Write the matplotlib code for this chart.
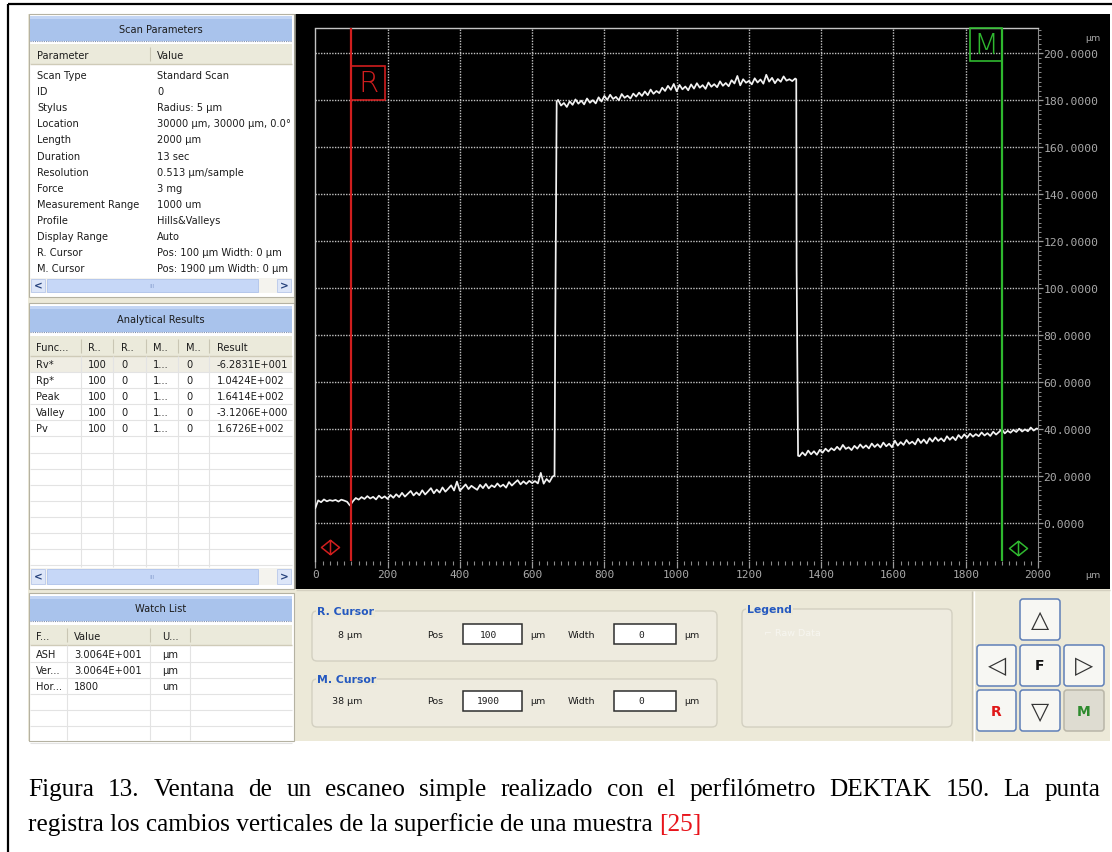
import numpy as np
import matplotlib
matplotlib.use("Agg")
import matplotlib.pyplot as plt
from matplotlib.patches import Rectangle, FancyBboxPatch
from matplotlib.path import Path
from matplotlib.ticker import MultipleLocator
from matplotlib.transforms import Bbox

# ---------------- data ----------------
# Surface profile (µm) sampled every 8 µm on the three levels of the step
sample_step = 8
base_start = 0
base_z = [6.5, 9.8, 9.0, 10.2, 9.4, 9.9, 9.6, 10.0, 9.3, 10.1, 9.7, 9.2, 7.6, 9.4,
          10.8, 10.1, 11.2, 10.4, 11.6, 10.6, 11.3, 10.2, 11.8, 10.7, 11.5, 10.4,
          12.1, 10.9, 12.4, 11.2, 13.0, 11.4, 12.6, 13.8, 11.9, 13.2, 12.0, 14.1,
          12.3, 13.6, 15.0, 12.8, 14.4, 13.1, 15.3, 13.5, 14.8, 16.2, 14.0, 17.8,
          13.9, 15.2, 16.6, 14.6, 16.0, 15.1, 14.3, 16.4, 15.0, 16.8, 14.9, 16.2,
          15.4, 17.0, 15.6, 16.5, 15.2, 17.6, 16.1, 17.3, 18.4, 16.6, 17.9, 16.8,
          18.1, 17.2, 18.0, 17.0, 21.5, 16.9, 18.9, 17.6, 19.8]
rise_x = [662, 664, 668]
rise_z = [20.4, 82.0, 179.6]
film_start = 672
film_z = [180.2, 177.8, 178.9, 177.2, 179.6, 178.1, 180.4, 178.6, 179.9, 178.3,
          180.8, 179.0, 180.1, 178.7, 181.3, 179.5, 181.9, 180.2, 182.4, 180.6,
          181.5, 180.0, 182.7, 181.1, 182.0, 180.8, 182.9, 181.6, 183.3, 181.9,
          183.8, 182.2, 184.6, 182.8, 184.0, 183.1, 185.4, 184.0, 186.2, 184.5,
          187.0, 183.9, 186.6, 184.7, 185.9, 184.3, 186.8, 185.0, 187.3, 185.4,
          186.5, 184.9, 187.6, 185.8, 186.9, 185.6, 188.1, 186.2, 187.4, 186.0,
          188.6, 187.2, 190.4, 186.4, 189.0, 187.5, 188.3, 186.8, 189.4, 187.6,
          188.9, 187.1, 190.9, 188.0, 189.6, 187.3, 189.1, 187.9, 190.2, 188.4,
          189.0, 188.2, 189.3]
fall_x = [1331, 1332, 1336]
fall_z = [189.0, 108.0, 28.8]
tail_start = 1340
tail_z = [28.6, 30.2, 28.9, 31.0, 29.4, 30.7, 29.2, 31.3, 30.1, 31.8, 30.6, 32.0,
          31.1, 32.6, 31.3, 33.4, 31.7, 32.4, 31.2, 33.0, 31.8, 33.6, 32.1, 33.2,
          31.9, 34.0, 32.5, 33.7, 32.3, 34.4, 32.8, 33.9, 32.4, 35.2, 33.1, 34.6,
          33.4, 35.5, 33.9, 34.8, 33.6, 36.0, 34.2, 35.7, 34.0, 36.3, 34.8, 36.6,
          35.1, 36.2, 34.9, 37.1, 35.6, 36.8, 35.4, 37.6, 36.2, 37.9, 36.5, 38.2,
          36.9, 38.0, 37.1, 38.7, 37.4, 38.4, 37.2, 39.0, 37.8, 38.9, 40.1, 38.3,
          39.4, 38.6, 39.8, 38.9, 40.3, 39.1, 40.0, 39.2, 40.8, 39.5, 40.4]
end_x = [2000]
end_z = [40.2]

r_cursor = 100
m_cursor = 1900
x_ticks = list(range(0, 2001, 200))
y_ticks = list(range(0, 201, 20))

param_names = ["Scan Type", "ID", "Stylus", "Location", "Length", "Duration",
               "Resolution", "Force", "Measurement Range", "Profile",
               "Display Range", "R. Cursor", "M. Cursor"]
param_values = ["Standard Scan", "0", "Radius: 5 µm", "30000 µm, 30000 µm, 0.0°",
                "2000 µm", "13 sec", "0.513 µm/sample", "3 mg", "1000 um",
                "Hills&Valleys", "Auto", "Pos: 100 µm Width: 0 µm",
                "Pos: 1900 µm Width: 0 µm"]

result_cols = ["Func...", "R..", "R..", "M..", "M..", "Result"]
result_funcs = ["Rv*", "Rp*", "Peak", "Valley", "Pv"]
result_rpos = ["100"] * 5
result_rwid = ["0"] * 5
result_mpos = ["1..."] * 5
result_mwid = ["0"] * 5
result_vals = ["-6.2831E+001", "1.0424E+002", "1.6414E+002", "-3.1206E+000",
               "1.6726E+002"]

watch_cols = ["F...", "Value", "U..."]
watch_names = ["ASH", "Ver...", "Hor..."]
watch_values = ["3.0064E+001", "3.0064E+001", "1800"]
watch_units = ["µm", "µm", "um"]

caption_line1 = ("Figura 13. Ventana de un escaneo simple realizado con el "
                 "perfilómetro DEKTAK 150. La punta")
caption_line2 = "registra los cambios verticales de la superficie de una muestra"
caption_ref = "[25]"

# ---------------- figure ----------------
W, H = 1112, 853
fig = plt.figure(figsize=(W / 100, H / 100), dpi=100)
fig.patch.set_facecolor("white")
bg = fig.add_axes([0, 0, 1, 1])
bg.set_xlim(0, W)
bg.set_ylim(H, 0)
bg.axis("off")

UI = "DejaVu Sans"
BEIGE = "#ECE9D8"
HEAD = "#A9C3EC"
GRIDC = "#E3E3E3"


def rect(x0, y0, x1, y1, fc, ec="none", lw=0.0, z=1):
    bg.add_patch(Rectangle((x0, y0), x1 - x0, y1 - y0, fc=fc, ec=ec, lw=lw,
                           zorder=z))


def line(xs, ys, c, lw=1.0, z=2, ls="-"):
    bg.plot(xs, ys, color=c, lw=lw, zorder=z, ls=ls, solid_capstyle="butt")


def txt(x, y, s, size=7.1, color="#1c1c1c", ha="left", va="center",
        weight="normal", family=UI, z=5, **kw):
    return bg.text(x, y, s, fontsize=size, color=color, ha=ha, va=va,
                   fontweight=weight, family=family, zorder=z, **kw)


# outer frame of the figure page
line([8, 8], [5, H], "black", lw=1.6, z=1)
line([8, W], [5, 5], "black", lw=1.6, z=1)

# application window background
rect(28, 15, 1110, 742, BEIGE, z=0.5)


def header(y0, y1, title):
    rect(30, y0, 292, y1, HEAD, z=1)
    rect(30, y0, 292, y0 + 3, "#C3D5F4", z=1.1)
    line([30, 292], [y1, y1], "#7E8FB0", lw=0.8, z=1.2, ls=(0, (1, 1)))
    txt(161, (y0 + y1) / 2, title, size=7.1, ha="center")


def colhead(y0, y1, names, xs, seps):
    rect(30, y0, 292, y1, "#EBEADB", z=1)
    line([30, 292], [y1, y1], "#CFCBB8", lw=1.0, z=1.2)
    for s in seps:
        line([s, s], [y0 + 3, y1 - 3], "#C9C6B4", lw=0.8, z=1.2)
    for n, x in zip(names, xs):
        txt(x, (y0 + y1) / 2 + 1, n)


def scrollbar(y0, y1):
    rect(30, y0, 292, y1, "#F4F3EE", z=1)
    rect(31, y0 + 1, 45, y1 - 1, "#DDE6F8", ec="#B8C8EA", lw=0.6, z=1.2)
    rect(277, y0 + 1, 291, y1 - 1, "#DDE6F8", ec="#B8C8EA", lw=0.6, z=1.2)
    rect(47, y0 + 1, 258, y1 - 1, "#C6D7F7", ec="#AFC3EC", lw=0.6, z=1.2)
    txt(38, (y0 + y1) / 2, "<", size=7.5, color="#24407A", ha="center",
        weight="bold")
    txt(284, (y0 + y1) / 2, ">", size=7.5, color="#24407A", ha="center",
        weight="bold")
    txt(152, (y0 + y1) / 2, "III", size=4.5, color="#8FA6D4", ha="center")


# --- Scan Parameters ---
rect(29, 15, 294, 298, "white", ec="#B5B2A2", lw=0.8, z=0.8)
header(17, 42, "Scan Parameters")
colhead(45, 65, ["Parameter", "Value"], [37, 157], [150])
row_y = 76.0
for name, val in zip(param_names, param_values):
    txt(37, row_y, name)
    t = txt(157, row_y, val, clip_on=True)
    t.set_clip_path(None)
    t.set_clip_box(Bbox.from_extents(150, 0, 292, H))
    row_y += 16.1
scrollbar(279, 294)

# --- Analytical Results ---
rect(29, 304, 294, 590, "white", ec="#B5B2A2", lw=0.8, z=0.8)
header(307, 333, "Analytical Results")
a_seps = [81, 113, 146, 178, 209]
colhead(337, 357, result_cols, [36, 88, 121, 153, 186, 217], a_seps)
rect(30, 357, 292, 373, "#EFEDE3", z=1)
for k in range(13):
    yy = 373 + 16.1 * k
    line([30, 292], [yy, yy], GRIDC, lw=0.8, z=1.3)
for s in a_seps:
    line([s, s], [357, 568], GRIDC, lw=0.8, z=1.3)
for i in range(len(result_funcs)):
    yy = 365 + 16.1 * i
    for x, s in zip([36, 88, 121, 153, 186, 217],
                    [result_funcs[i], result_rpos[i], result_rwid[i],
                     result_mpos[i], result_mwid[i], result_vals[i]]):
        txt(x, yy, s)
scrollbar(569, 586)

# --- Watch List ---
rect(29, 594, 294, 742, "white", ec="#B5B2A2", lw=0.8, z=0.8)
header(597, 622, "Watch List")
w_seps = [67, 150, 190]
colhead(626, 646, watch_cols, [36, 74, 162], w_seps)
for k in range(6):
    yy = 663 + 16.1 * k
    line([30, 292], [yy, yy], GRIDC, lw=0.8, z=1.3)
for s in w_seps:
    line([s, s], [646, 741], GRIDC, lw=0.8, z=1.3)
for i in range(len(watch_names)):
    yy = 655 + 16.1 * i
    txt(36, yy, watch_names[i])
    txt(74, yy, watch_values[i])
    txt(162, yy, watch_units[i])

# --- black plotting panel ---
rect(295, 15, 1110, 590, "black", z=0.9)
line([295, 295], [15, 590], "#9C9A8E", lw=1.2, z=1.0)

# --- bottom control panel ---
line([296, 1110], [591, 591], "#D4D0C0", lw=1.0, z=1)
line([972, 972], [592, 742], "#C9C5B4", lw=1.0, z=1)
line([974, 974], [592, 742], "white", lw=1.0, z=1)


def group(x0, y0, x1, y1, title):
    bg.add_patch(FancyBboxPatch((x0, y0), x1 - x0, y1 - y0,
                                boxstyle="round,pad=0,rounding_size=5",
                                fc="#EEEBDF", ec="#D3D0C1", lw=1.0, zorder=1))
    txt(x0 + 5, y0, title, size=7.8, color="#2458C0", weight="bold", z=3,
        bbox=dict(fc=BEIGE, ec="none", pad=0.8))


def textbox(x0, x1, yc, s):
    rect(x0, yc - 10, x1, yc + 10, "white", ec="#2E2E2E", lw=1.1, z=2)
    txt((x0 + x1) / 2 - 4, yc, s, size=6.8, family="DejaVu Sans Mono",
        ha="center")


group(312, 612, 717, 662, "R. Cursor")
txt(338, 635, f"{8} µm", size=6.8)
txt(427, 635, "Pos", size=6.8)
textbox(463, 522, 635, str(r_cursor))
txt(530, 635, "µm", size=6.8)
txt(568, 635, "Width", size=6.8)
textbox(614, 676, 635, "0")
txt(684, 635, "µm", size=6.8)

group(312, 680, 717, 728, "M. Cursor")
txt(332, 702, f"{38} µm", size=6.8)
txt(427, 702, "Pos", size=6.8)
textbox(463, 522, 702, str(m_cursor))
txt(530, 702, "µm", size=6.8)
txt(568, 702, "Width", size=6.8)
textbox(614, 676, 702, "0")
txt(684, 702, "µm", size=6.8)

group(742, 610, 952, 728, "Legend")
txt(764, 633, "⌐ Raw Data", size=6.8, color="#F7F6F0")


def button(x0, y0, x1, y1, label, color, size, weight="normal", pressed=False):
    bg.add_patch(FancyBboxPatch((x0, y0), x1 - x0, y1 - y0,
                                boxstyle="round,pad=0,rounding_size=3",
                                fc="#DEDCD1" if pressed else "#F7F7F3",
                                ec="#B9B6A8" if pressed else "#5F7FB8",
                                lw=1.1, zorder=2))
    txt((x0 + x1) / 2, (y0 + y1) / 2, label, size=size, color=color,
        ha="center", weight=weight, z=3)


button(1020, 600, 1060, 641, "△", "#333333", 17)
button(977, 646, 1016, 687, "◁", "#333333", 17)
button(1020, 646, 1060, 687, "F", "#111111", 10, "bold")
button(1064, 646, 1104, 687, "▷", "#333333", 17)
button(977, 691, 1016, 732, "R", "#E01818", 10, "bold")
button(1020, 691, 1060, 732, "▽", "#333333", 17)
button(1064, 691, 1104, 732, "M", "#2E8B2E", 10, "bold", pressed=True)

# ---------------- profile chart ----------------
ax = fig.add_axes([315.3 / W, 1 - 562 / H, (1038 - 315.3) / W, (562 - 29) / H])
ax.set_facecolor("none")
ax.set_xlim(0, 2000)
ax.set_ylim(-16.0, 210.8)

GRID = "#C4C4C4"
DOT = (0, (1, 1))
for v in x_ticks[1:-1]:
    ax.axvline(v, color=GRID, lw=1.0, ls=DOT, zorder=1)
for v in y_ticks:
    ax.axhline(v, color=GRID, lw=1.0, ls=DOT, zorder=1)

for side in ("left", "top"):
    ax.spines[side].set_color(GRID)
    ax.spines[side].set_linestyle(DOT)
    ax.spines[side].set_linewidth(1.0)
ax.spines["bottom"].set_visible(False)
ax.spines["right"].set_color("#8A8A8A")
ax.spines["right"].set_linewidth(0.8)

ax.yaxis.tick_right()
ax.set_xticks(x_ticks)
ax.set_yticks(y_ticks)
ax.set_yticklabels([f"{v:.4f}" for v in y_ticks])
ax.xaxis.set_minor_locator(MultipleLocator(20))
ax.yaxis.set_minor_locator(MultipleLocator(2))
ax.tick_params(axis="x", which="major", direction="out", length=5, width=0.9,
               color="#9A9A9A", labelcolor="#A9A9A9", labelsize=8.0, pad=1)
ax.tick_params(axis="x", which="minor", direction="out", length=3, width=0.8,
               color="#8A8A8A")
ax.tick_params(axis="y", which="major", direction="out", length=3.5,
               width=0.9, color="#9A9A9A", labelcolor="#A9A9A9",
               labelsize=8.2, pad=0.5)
ax.tick_params(axis="y", which="minor", direction="out", length=2.2,
               width=0.7, color="#8A8A8A")
for lab in ax.get_xticklabels() + ax.get_yticklabels():
    lab.set_family("DejaVu Sans Mono")

# assemble the traced profile
profile_x = np.concatenate([
    base_start + sample_step * np.arange(len(base_z)), rise_x,
    film_start + sample_step * np.arange(len(film_z)), fall_x,
    tail_start + sample_step * np.arange(len(tail_z)), end_x])
profile_z = np.concatenate([base_z, rise_z, film_z, fall_z, tail_z, end_z])
ax.plot(profile_x, profile_z, color="#F2F2F2", lw=1.25, zorder=3)

# reference (R) and measurement (M) cursors
RED = "#D01E1E"
GREEN = "#2FB82F"
ax.axvline(r_cursor, color=RED, lw=1.6, zorder=4)
ax.axvline(m_cursor, color=GREEN, lw=1.6, zorder=4)
ax.add_patch(Rectangle((r_cursor, 180.1), 94, 14.5, fill=False, ec=RED,
                       lw=1.2, zorder=4))
ax.text(r_cursor + 47, 187.3, "R", color=RED, fontsize=21, ha="center",
        va="center", family="DejaVu Sans", fontweight="light", zorder=5)
ax.add_patch(Rectangle((m_cursor - 88, 196.6), 88, 14.2, fill=False,
                       ec=GREEN, lw=1.2, zorder=4, clip_on=False))
ax.text(m_cursor - 44, 203.7, "M", color=GREEN, fontsize=21, ha="center",
        va="center", family="DejaVu Sans", fontweight="light", zorder=5)

handle = Path([(-1, 0), (0, 0.8), (1, 0), (0, -0.8), (-1, 0), (0, 0.8),
               (0, -0.8)],
              [Path.MOVETO, Path.LINETO, Path.LINETO, Path.LINETO,
               Path.CLOSEPOLY, Path.MOVETO, Path.LINETO])
ax.plot([r_cursor - 59], [-10.1], marker=handle, ms=13, mfc="none", mec=RED,
        mew=1.1, zorder=5)
ax.plot([m_cursor + 44], [-10.3], marker=handle, ms=13, mfc="none",
        mec=GREEN, mew=1.1, zorder=5)

# axis unit labels
txt(1101, 38, "µm", size=6.8, color="#A9A9A9", ha="right", z=6)
txt(1101, 576, "µm", size=6.8, color="#A9A9A9", ha="right", z=6)

# ---------------- caption ----------------
CAP = "Liberation Serif"
CAP_SIZE = 18.2
renderer = fig.canvas.get_renderer()
words = caption_line1.split()
objs = [txt(0, 796, w, size=CAP_SIZE, color="black", va="baseline",
            family=CAP) for w in words]
widths = [o.get_window_extent(renderer).width for o in objs]
gap = (1100 - 28 - sum(widths)) / (len(words) - 1)
xpos = 28.0
for o, wd in zip(objs, widths):
    o.set_x(xpos)
    xpos += wd + gap

t2 = txt(28, 831, caption_line2 + " ", size=CAP_SIZE, color="black",
         va="baseline", family=CAP)
w2 = t2.get_window_extent(renderer).width
txt(28 + w2, 831, caption_ref, size=CAP_SIZE, color="#E8141B",
    va="baseline", family=CAP)

fig.savefig("out.png", dpi=100, facecolor="white")
